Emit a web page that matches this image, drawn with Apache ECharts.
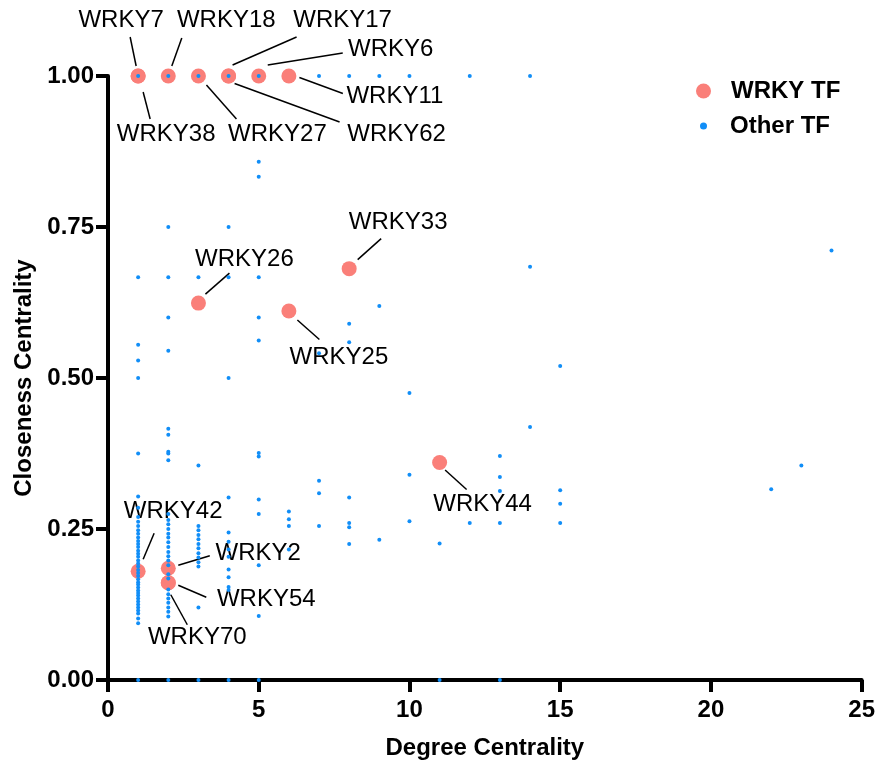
<!DOCTYPE html>
<html>
<head>
<meta charset="utf-8">
<script src="https://cdn.jsdelivr.net/npm/echarts@6/dist/echarts.min.js"></script>
<style>
  html, body { margin: 0; padding: 0; background: #fff; }
  #chart { width: 878px; height: 765px; }
</style>
</head>
<body>
<div id="chart"></div>
<script>
// WRKY transcription factors: name, degree centrality, closeness centrality
const wrkyNames = ['WRKY7', 'WRKY38', 'WRKY18', 'WRKY27', 'WRKY17', 'WRKY62', 'WRKY6', 'WRKY11',
  'WRKY26', 'WRKY33', 'WRKY25', 'WRKY44', 'WRKY42', 'WRKY2', 'WRKY54', 'WRKY70'];
const wrkyDegree = [1, 1, 2, 3, 4, 4, 5, 6, 3, 8, 6, 11, 1, 2, 2, 2];
const wrkyCloseness = [1.0, 1.0, 1.0, 1.0, 1.0, 1.0, 1.0, 1.0,
  0.624, 0.681, 0.611, 0.360, 0.180, 0.185, 0.161, 0.161];

// Label placement: pixel offset of each name's centre from its point
const labelOffsets = [[-17, -56], [28, 58], [58, -56], [79, 58], [114, -56], [168, 58], [132, -27], [106, 20],
  [46, -44], [49, -46], [50, 46], [43, 42], [35, -60], [90, -15], [98, 17], [29, 55]];

// Leader lines: [startDx, startDy, endDx, endDy] in pixels relative to the point
const leaderOffsets = [
  [-2, -10, -8, -39], [5, 16, 12, 43], [3.5, -10, 13.5, -38], [8, 9, 38, 43],
  [4, -11, 68, -39], [6, 7.5, 111, 46], [9, -11, 84, -23], [10.5, 1.5, 54, 17.5],
  [7, -9, 31, -30], [8.5, -9, 32, -30], [8.5, 9, 30.5, 28.5], [5.5, 7.5, 27, 27],
  [5, -12, 16, -38], [10, -3, 41.5, -12.5], [10, 2.5, 38, 14.5], [2.5, 12, 19, 42]
];

// Other transcription factors: [degree, closeness]
const otherTF = [
  [1, 1.0], [2, 1.0], [3, 1.0], [4, 1.0], [5, 1.0], [7, 1.0], [8, 1.0], [9, 1.0], [10, 1.0], [12, 1.0], [14, 1.0],
  [5, 0.858], [5, 0.833], [2, 0.75], [4, 0.75],
  [1, 0.667], [2, 0.667], [3, 0.667], [4, 0.667], [5, 0.667], [14, 0.684], [24, 0.711],
  [2, 0.600], [5, 0.600], [9, 0.619], [8, 0.590], [1, 0.555], [2, 0.545], [5, 0.562], [8, 0.559],
  [1, 0.529], [7, 0.541], [15, 0.520], [1, 0.500], [4, 0.500], [10, 0.475], [14, 0.419],
  [2, 0.416], [2, 0.406], [1, 0.375], [2, 0.378], [2, 0.375], [2, 0.364], [3, 0.355], [5, 0.376], [5, 0.370],
  [13, 0.371], [10, 0.340], [13, 0.336], [7, 0.330], [7, 0.309], [13, 0.313], [15, 0.314], [15, 0.292],
  [8, 0.302], [23, 0.355], [22, 0.316], [5, 0.299], [4, 0.302], [1, 0.304], [5, 0.275],
  [6, 0.279], [6, 0.266], [6, 0.255], [7, 0.255], [8, 0.260], [8, 0.253], [10, 0.263], [12, 0.260],
  [13, 0.260], [15, 0.260], [9, 0.232], [8, 0.225], [11, 0.226], [6, 0.216], [5, 0.190], [5, 0.106],
  [3, 0.255], [3, 0.248], [3, 0.240], [3, 0.233], [3, 0.225], [3, 0.218], [3, 0.210], [3, 0.203], [3, 0.195], [3, 0.188], [3, 0.120],
  [4, 0.244], [4, 0.229], [4, 0.216], [4, 0.204], [4, 0.183], [4, 0.170], [4, 0.154], [4, 0.149],
  [1, 0.285], [1, 0.270], [1, 0.262], [1, 0.255], [1, 0.248], [1, 0.242], [1, 0.236], [1, 0.230], [1, 0.225],
  [1, 0.220], [1, 0.214], [1, 0.209], [1, 0.204], [1, 0.198], [1, 0.193], [1, 0.188], [1, 0.182], [1, 0.177],
  [1, 0.172], [1, 0.167], [1, 0.162], [1, 0.158], [1, 0.153], [1, 0.148], [1, 0.144], [1, 0.140], [1, 0.135],
  [1, 0.130], [1, 0.125], [1, 0.120], [1, 0.115], [1, 0.110], [1, 0.102], [1, 0.094],
  [2, 0.275], [2, 0.265], [2, 0.258], [2, 0.250], [2, 0.242], [2, 0.236], [2, 0.228], [2, 0.220], [2, 0.212],
  [2, 0.205], [2, 0.198], [2, 0.190], [2, 0.175], [2, 0.168], [2, 0.150], [2, 0.142], [2, 0.135], [2, 0.128],
  [2, 0.120], [2, 0.113], [2, 0.105],
  [1, 0], [2, 0], [3, 0], [4, 0], [5, 0], [11, 0], [13, 0]
];

const xTicks = { min: 0, max: 25, step: 5 };
const yTicks = { min: 0, max: 1, step: 0.25 };

const FONT = '"Liberation Sans", Arial, Helvetica, sans-serif';
const RED = '#fa7f79';
const BLUE = '#118ef7';

const wrkyData = wrkyNames.map((n, i) => ({ name: n, value: [wrkyDegree[i], wrkyCloseness[i]] }));
const leaderData = wrkyNames.map((n, i) => [wrkyDegree[i], wrkyCloseness[i], i]);

const chart = echarts.init(document.getElementById('chart'), null, { renderer: 'canvas' });

const axisCommon = {
  axisLine: { show: true, onZero: false, lineStyle: { color: '#000', width: 4 } },
  axisTick: { show: true, length: 12, lineStyle: { color: '#000', width: 4 } },
  splitLine: { show: false },
  nameLocation: 'middle',
  nameTextStyle: { fontFamily: FONT, fontWeight: 'bold', fontSize: 24, color: '#000' }
};

chart.setOption({
  animation: false,
  backgroundColor: '#fff',
  grid: { left: 108, right: 15, top: 76, bottom: 85, containLabel: false },
  xAxis: Object.assign({}, axisCommon, {
    type: 'value', min: xTicks.min, max: xTicks.max, interval: xTicks.step,
    name: 'Degree Centrality', nameGap: 56,
    axisLabel: { margin: 18, fontFamily: FONT, fontWeight: 'bold', fontSize: 24, color: '#000' }
  }),
  yAxis: Object.assign({}, axisCommon, {
    type: 'value', min: yTicks.min, max: yTicks.max, interval: yTicks.step,
    name: 'Closeness Centrality', nameGap: 72,
    axisLabel: { margin: 14, fontFamily: FONT, fontWeight: 'bold', fontSize: 24, color: '#000',
      formatter: v => v.toFixed(2) }
  }),
  legend: [
    {
      data: ['WRKY TF'], left: 696, top: 79, padding: 0, icon: 'circle',
      itemWidth: 15, itemHeight: 15,
      textStyle: { fontFamily: FONT, fontWeight: 'bold', fontSize: 24, color: '#000', padding: [0, 0, 0, 15] }
    },
    {
      data: ['Other TF'], left: 700, top: 114, padding: 0, icon: 'circle',
      itemWidth: 7, itemHeight: 7,
      textStyle: { fontFamily: FONT, fontWeight: 'bold', fontSize: 24, color: '#000', padding: [0, 0, 0, 18] }
    }
  ],
  series: [
    {
      // leader lines from each WRKY point towards its name
      type: 'custom',
      data: leaderData,
      silent: true,
      clip: false,
      z: 1,
      renderItem: (params, api) => {
        const p = api.coord([api.value(0), api.value(1)]);
        const o = leaderOffsets[api.value(2)];
        return {
          type: 'line',
          shape: { x1: p[0] + o[0], y1: p[1] + o[1], x2: p[0] + o[2], y2: p[1] + o[3] },
          style: { stroke: '#000', lineWidth: 1.5 }
        };
      }
    },
    {
      name: 'WRKY TF',
      type: 'scatter',
      data: wrkyData,
      symbol: 'circle',
      symbolSize: 15,
      itemStyle: { color: RED, opacity: 1 },
      z: 2,
      clip: false,
      label: {
        show: true, position: 'inside', formatter: '{b}',
        fontFamily: FONT, fontSize: 24, color: '#000'
      },
      labelLayout: p => ({ dx: labelOffsets[p.dataIndex][0], dy: labelOffsets[p.dataIndex][1] }),
      emphasis: { disabled: true }
    },
    {
      name: 'Other TF',
      type: 'scatter',
      data: otherTF,
      symbol: 'circle',
      symbolSize: 4,
      itemStyle: { color: BLUE, opacity: 1 },
      z: 3,
      clip: false,
      emphasis: { disabled: true }
    }
  ]
});
</script>
</body>
</html>
